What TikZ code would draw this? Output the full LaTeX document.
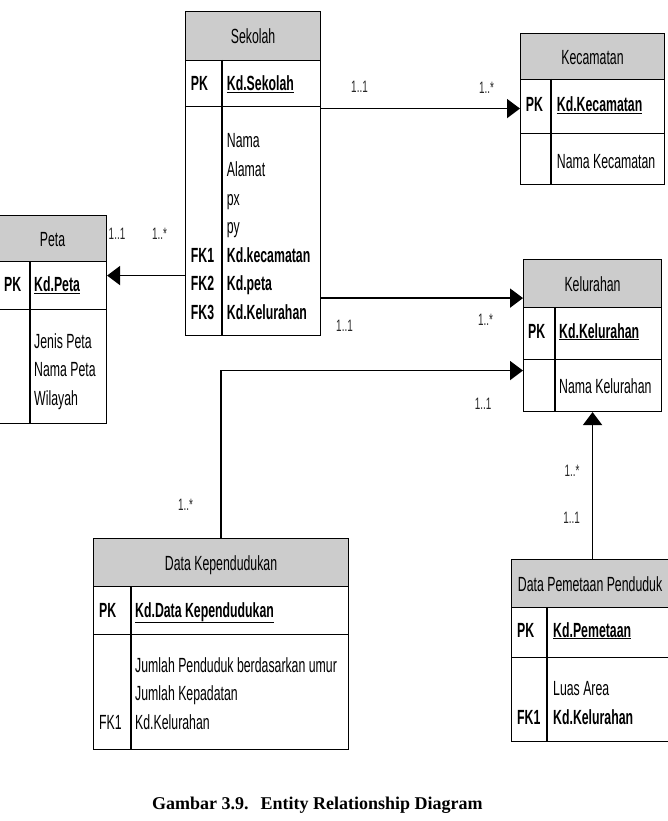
\documentclass[tikz,border=0pt]{standalone}
\usepackage{fontspec}
\setmainfont{Liberation Sans}[FakeStretch=0.6]
\newfontfamily\capfont{Liberation Serif}
\usetikzlibrary{arrows.meta}
\definecolor{hdrgray}{RGB}{204,204,204}
\tikzset{
  hdr/.style={draw, line width=1.1pt, fill=hdrgray, anchor=north west, inner sep=0pt,
    text height=15pt, text depth=0pt},
  box/.style={draw, line width=1.1pt, anchor=north west, inner sep=0pt},
  sep/.style={line width=1.1pt},
  fld/.style={anchor=base west, inner sep=0pt},
  mult/.style={inner sep=0pt, text=black!85, font=\fontsize{16.5pt}{18pt}\selectfont},
  rel/.style={line width=1.8pt, -{Triangle[length=13pt,width=19pt]}}
}
\begin{document}
\begin{tikzpicture}[x=1pt, y=-1pt, font=\fontsize{20.5pt}{24pt}\selectfont]
  \useasboundingbox (0,0) rectangle (667,821);

  \node[hdr, minimum width=135pt, minimum height=49pt] (sekolah) at (185,11) {Sekolah};
  \node[box, minimum width=135pt, minimum height=46pt] (sekolahpk) at (185,60) {};
  \node[box, minimum width=135pt, minimum height=229pt] (sekolahbody) at (185,106) {};
  \draw[sep] (222,60) -- (222,335);
  \node[fld] (sek0k) at (190.7,91) {\bfseries PK};
  \node[fld] (sek0) at (226.7,91) {\bfseries\underline{Kd.Sekolah}};
  \node[fld] (sek1) at (226.7,148) {Nama};
  \node[fld] (sek2) at (226.7,176.5) {Alamat};
  \node[fld] (sek3) at (226.7,205) {px};
  \node[fld] (sek4) at (226.7,233.5) {py};
  \node[fld] (sek5k) at (190.7,262) {\bfseries FK1};
  \node[fld] (sek5) at (226.7,262) {\bfseries Kd.kecamatan};
  \node[fld] (sek6k) at (190.7,290.5) {\bfseries FK2};
  \node[fld] (sek6) at (226.7,290.5) {\bfseries Kd.peta};
  \node[fld] (sek7k) at (190.7,319) {\bfseries FK3};
  \node[fld] (sek7) at (226.7,319) {\bfseries Kd.Kelurahan};

  \node[hdr, minimum width=144pt, minimum height=46pt] (kecamatan) at (520,33) {Kecamatan};
  \node[box, minimum width=144pt, minimum height=54pt] (kecamatanpk) at (520,79) {};
  \node[box, minimum width=144pt, minimum height=51pt] (kecamatanbody) at (520,133) {};
  \draw[sep] (551,79) -- (551,184);
  \node[fld] (kec0k) at (525.7,112) {\bfseries PK};
  \node[fld] (kec0) at (556.7,112) {\bfseries\underline{Kd.Kecamatan}};
  \node[fld] (kec1) at (556.7,168) {Nama Kecamatan};

  \node[hdr, minimum width=138pt, minimum height=48pt] (kelurahan) at (523,259) {Kelurahan};
  \node[box, minimum width=138pt, minimum height=52pt] (kelurahanpk) at (523,307) {};
  \node[box, minimum width=138pt, minimum height=52pt] (kelurahanbody) at (523,359) {};
  \draw[sep] (555,307) -- (555,411);
  \node[fld] (kel0k) at (528,338) {\bfseries PK};
  \node[fld] (kel0) at (559,338) {\bfseries\underline{Kd.Kelurahan}};
  \node[fld] (kel1) at (559,393) {Nama Kelurahan};

  \node[hdr, minimum width=108pt, minimum height=46pt] (peta) at (-2,215) {Peta};
  \node[box, minimum width=108pt, minimum height=48pt] (petapk) at (-2,261) {};
  \node[box, minimum width=108pt, minimum height=114pt] (petabody) at (-2,309) {};
  \draw[sep] (30,261) -- (30,423);
  \node[fld] (pet0k) at (4,291.5) {\bfseries PK};
  \node[fld] (pet0) at (34,291.5) {\bfseries\underline{Kd.Peta}};
  \node[fld] (pet1) at (34,348) {Jenis Peta};
  \node[fld] (pet2) at (34,376.5) {Nama Peta};
  \node[fld] (pet3) at (34,405) {Wilayah};

  \node[hdr, minimum width=255pt, minimum height=48pt] (datakependudukan) at (93,538) {Data Kependudukan};
  \node[box, minimum width=255pt, minimum height=48pt] (datakependudukanpk) at (93,586) {};
  \node[box, minimum width=255pt, minimum height=115pt] (datakependudukanbody) at (93,634) {};
  \draw[sep] (131,586) -- (131,749);
  \node[fld] (dkp0k) at (99,617) {\bfseries PK};
  \node[fld] (dkp0) at (135,617) {\bfseries\underline{Kd.Data Kependudukan}};
  \node[fld] (dkp1) at (135,672) {Jumlah Penduduk berdasarkan umur};
  \node[fld] (dkp2) at (135,700.5) {Jumlah Kepadatan};
  \node[fld] (dkp3k) at (99,729) {FK1};
  \node[fld] (dkp3) at (135,729) {Kd.Kelurahan};

  \node[hdr, minimum width=157pt, minimum height=48pt] (datapemetaan) at (511,559) {Data Pemetaan Penduduk};
  \node[box, minimum width=157pt, minimum height=50pt] (datapemetaanpk) at (511,607) {};
  \node[box, minimum width=157pt, minimum height=84pt] (datapemetaanbody) at (511,657) {};
  \draw[sep] (547,607) -- (547,741);
  \node[fld] (dpm0k) at (517,637) {\bfseries PK};
  \node[fld] (dpm0) at (553,637) {\bfseries\underline{Kd.Pemetaan}};
  \node[fld] (dpm1) at (553,695) {Luas Area};
  \node[fld] (dpm2k) at (517,724) {\bfseries FK1};
  \node[fld] (dpm2) at (553,724) {\bfseries Kd.Kelurahan};

  \coordinate (k0) at ([yshift=-2pt]kecamatanpk.west);
  \coordinate (k1) at ([yshift=10pt]kelurahan.south west);
  \coordinate (k2) at ([yshift=15pt]kelurahanbody.west);
  \coordinate (p1) at ([yshift=10pt]petapk.east);
  \draw[rel] (k0 -| sekolahbody.east) -- (k0);
  \draw[rel] (k1 -| sekolahbody.east) -- (k1);
  \draw[rel] (p1 -| sekolahbody.west) -- (p1);
  \draw[rel] (datakependudukan.north) |- (k2);
  \draw[rel] (kelurahanbody.south |- datapemetaan.north) -- (kelurahanbody.south);

  \node[mult] (m0a) at (359.5,86.5) {1..1};
  \node[mult] (m0b) at (486.5,88) {1..*};
  \node[mult] (m1a) at (344.5,326) {1..1};
  \node[mult] (m1b) at (485.5,320) {1..*};
  \node[mult] (m2a) at (117,234) {1..1};
  \node[mult] (m2b) at (159.5,234) {1..*};
  \node[mult] (m3a) at (483,403.5) {1..1};
  \node[mult] (m3b) at (185.5,504.5) {1..*};
  \node[mult] (m4a) at (572,470.5) {1..*};
  \node[mult] (m4b) at (571.7,517.5) {1..1};

  \node[anchor=base west, inner sep=0pt, font={\capfont\bfseries\fontsize{18pt}{20pt}\selectfont}]
    (caption) at (152,809) {Gambar 3.9.\hspace{12pt}Entity Relationship Diagram};
\end{tikzpicture}
\end{document}
